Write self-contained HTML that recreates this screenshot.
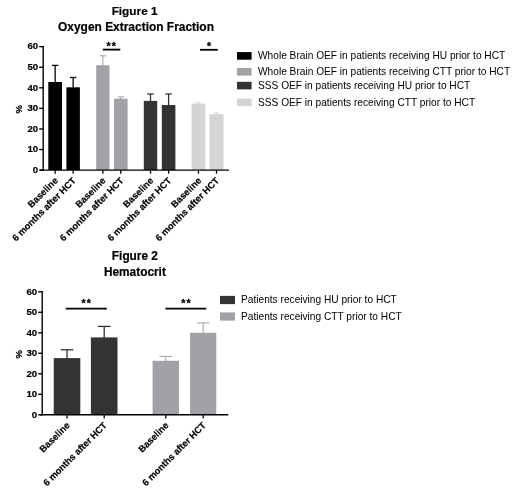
<!DOCTYPE html><html><head><meta charset="utf-8"><title>Figure</title><style>html,body{margin:0;padding:0;background:#fff}svg{display:block}text{font-family:"Liberation Sans", Arial, sans-serif;fill:#000}</style></head><body>
<svg width="520" height="499" viewBox="0 0 520 499">
<rect width="520" height="499" fill="#fff"/>
<text x="134.6" y="15.0" font-size="11.8" font-weight="bold" stroke="#000" stroke-width="0.2" text-anchor="middle">Figure 1</text>
<text x="136" y="30.6" font-size="11.95" font-weight="bold" stroke="#000" stroke-width="0.2" text-anchor="middle">Oxygen Extraction Fraction</text>
<line x1="43.20" y1="45.95" x2="43.20" y2="170.80" stroke="#000" stroke-width="1.4"/>
<line x1="39.20" y1="170.10" x2="43.20" y2="170.10" stroke="#000" stroke-width="1.4"/>
<text x="38.2" y="172.8" font-size="9.6" font-weight="bold" stroke="#000" stroke-width="0.2" text-anchor="end">0</text>
<line x1="39.20" y1="149.52" x2="43.20" y2="149.52" stroke="#000" stroke-width="1.4"/>
<text x="38.2" y="152.22" font-size="9.6" font-weight="bold" stroke="#000" stroke-width="0.2" text-anchor="end">10</text>
<line x1="39.20" y1="128.95" x2="43.20" y2="128.95" stroke="#000" stroke-width="1.4"/>
<text x="38.2" y="131.65" font-size="9.6" font-weight="bold" stroke="#000" stroke-width="0.2" text-anchor="end">20</text>
<line x1="39.20" y1="108.38" x2="43.20" y2="108.38" stroke="#000" stroke-width="1.4"/>
<text x="38.2" y="111.08" font-size="9.6" font-weight="bold" stroke="#000" stroke-width="0.2" text-anchor="end">30</text>
<line x1="39.20" y1="87.80" x2="43.20" y2="87.80" stroke="#000" stroke-width="1.4"/>
<text x="38.2" y="90.5" font-size="9.6" font-weight="bold" stroke="#000" stroke-width="0.2" text-anchor="end">40</text>
<line x1="39.20" y1="67.22" x2="43.20" y2="67.22" stroke="#000" stroke-width="1.4"/>
<text x="38.2" y="69.92" font-size="9.6" font-weight="bold" stroke="#000" stroke-width="0.2" text-anchor="end">50</text>
<line x1="39.20" y1="46.65" x2="43.20" y2="46.65" stroke="#000" stroke-width="1.4"/>
<text x="38.2" y="49.35" font-size="9.6" font-weight="bold" stroke="#000" stroke-width="0.2" text-anchor="end">60</text>
<text x="22.5" y="109.2" font-size="9.5" font-weight="bold" stroke="#000" stroke-width="0.2" text-anchor="middle" transform="rotate(-90 22.5 109.2)">%</text>
<line x1="55.15" y1="65.40" x2="55.15" y2="83.00" stroke="#000000" stroke-width="1.3"/>
<line x1="51.95" y1="65.40" x2="58.35" y2="65.40" stroke="#000000" stroke-width="1.3"/>
<rect x="48.30" y="82.00" width="13.70" height="88.10" fill="#000000"/>
<line x1="55.15" y1="170.10" x2="55.15" y2="173.70" stroke="#000" stroke-width="1.3"/>
<line x1="73.15" y1="77.50" x2="73.15" y2="88.30" stroke="#000000" stroke-width="1.3"/>
<line x1="69.95" y1="77.50" x2="76.35" y2="77.50" stroke="#000000" stroke-width="1.3"/>
<rect x="66.40" y="87.30" width="13.50" height="82.80" fill="#000000"/>
<line x1="73.15" y1="170.10" x2="73.15" y2="173.70" stroke="#000" stroke-width="1.3"/>
<line x1="102.85" y1="55.80" x2="102.85" y2="66.20" stroke="#a2a2a6" stroke-width="1.0"/>
<line x1="99.65" y1="55.80" x2="106.05" y2="55.80" stroke="#a2a2a6" stroke-width="1.0"/>
<rect x="96.20" y="65.20" width="13.30" height="104.90" fill="#a2a2a6"/>
<line x1="102.85" y1="170.10" x2="102.85" y2="173.70" stroke="#000" stroke-width="1.3"/>
<line x1="120.80" y1="96.90" x2="120.80" y2="99.70" stroke="#a2a2a6" stroke-width="1.0"/>
<line x1="117.60" y1="96.90" x2="124.00" y2="96.90" stroke="#a2a2a6" stroke-width="1.0"/>
<rect x="114.00" y="98.70" width="13.60" height="71.40" fill="#a2a2a6"/>
<line x1="120.80" y1="170.10" x2="120.80" y2="173.70" stroke="#000" stroke-width="1.3"/>
<line x1="150.50" y1="94.00" x2="150.50" y2="101.90" stroke="#333333" stroke-width="1.3"/>
<line x1="147.30" y1="94.00" x2="153.70" y2="94.00" stroke="#333333" stroke-width="1.3"/>
<rect x="143.80" y="100.90" width="13.40" height="69.20" fill="#333333"/>
<line x1="150.50" y1="170.10" x2="150.50" y2="173.70" stroke="#000" stroke-width="1.3"/>
<line x1="168.60" y1="94.00" x2="168.60" y2="106.00" stroke="#333333" stroke-width="1.3"/>
<line x1="165.40" y1="94.00" x2="171.80" y2="94.00" stroke="#333333" stroke-width="1.3"/>
<rect x="161.80" y="105.00" width="13.60" height="65.10" fill="#333333"/>
<line x1="168.60" y1="170.10" x2="168.60" y2="173.70" stroke="#000" stroke-width="1.3"/>
<line x1="198.45" y1="102.80" x2="198.45" y2="104.60" stroke="#d4d4d4" stroke-width="0.9"/>
<line x1="195.25" y1="102.80" x2="201.65" y2="102.80" stroke="#d4d4d4" stroke-width="0.9"/>
<rect x="191.60" y="103.60" width="13.70" height="66.50" fill="#d4d4d4"/>
<line x1="198.45" y1="170.10" x2="198.45" y2="173.70" stroke="#000" stroke-width="1.3"/>
<line x1="216.50" y1="112.90" x2="216.50" y2="115.20" stroke="#d4d4d4" stroke-width="0.9"/>
<line x1="213.30" y1="112.90" x2="219.70" y2="112.90" stroke="#d4d4d4" stroke-width="0.9"/>
<rect x="209.50" y="114.20" width="14.00" height="55.90" fill="#d4d4d4"/>
<line x1="216.50" y1="170.10" x2="216.50" y2="173.70" stroke="#000" stroke-width="1.3"/>
<line x1="40.00" y1="170.10" x2="229.00" y2="170.10" stroke="#000" stroke-width="1.4"/>
<text x="58.55" y="181.2" font-size="9.3" font-weight="bold" stroke="#000" stroke-width="0.2" text-anchor="end" transform="rotate(-45 58.55 181.2)">Baseline</text>
<text x="76.55" y="181.2" font-size="9.3" font-weight="bold" stroke="#000" stroke-width="0.2" text-anchor="end" transform="rotate(-45 76.55 181.2)">6 months after HCT</text>
<text x="106.25" y="181.2" font-size="9.3" font-weight="bold" stroke="#000" stroke-width="0.2" text-anchor="end" transform="rotate(-45 106.25 181.2)">Baseline</text>
<text x="124.2" y="181.2" font-size="9.3" font-weight="bold" stroke="#000" stroke-width="0.2" text-anchor="end" transform="rotate(-45 124.2 181.2)">6 months after HCT</text>
<text x="153.9" y="181.2" font-size="9.3" font-weight="bold" stroke="#000" stroke-width="0.2" text-anchor="end" transform="rotate(-45 153.9 181.2)">Baseline</text>
<text x="172.0" y="181.2" font-size="9.3" font-weight="bold" stroke="#000" stroke-width="0.2" text-anchor="end" transform="rotate(-45 172.0 181.2)">6 months after HCT</text>
<text x="201.85" y="181.2" font-size="9.3" font-weight="bold" stroke="#000" stroke-width="0.2" text-anchor="end" transform="rotate(-45 201.85 181.2)">Baseline</text>
<text x="219.9" y="181.2" font-size="9.3" font-weight="bold" stroke="#000" stroke-width="0.2" text-anchor="end" transform="rotate(-45 219.9 181.2)">6 months after HCT</text>
<line x1="102.80" y1="49.60" x2="120.30" y2="49.60" stroke="#000" stroke-width="1.8"/>
<text x="111.7" y="50.4" font-size="10.5" font-weight="bold" text-anchor="middle" letter-spacing="1.2" stroke="#000" stroke-width="0.3">**</text>
<line x1="200.00" y1="49.80" x2="217.80" y2="49.80" stroke="#000" stroke-width="1.8"/>
<text x="209.6" y="50.4" font-size="10.5" font-weight="bold" text-anchor="middle" letter-spacing="1.2" stroke="#000" stroke-width="0.3">*</text>
<rect x="237.00" y="52.10" width="14.60" height="7.60" fill="#000000"/>
<text x="258" y="59.4" font-size="10.16">Whole Brain OEF in patients receiving HU prior to HCT</text>
<rect x="237.00" y="68.00" width="14.60" height="7.60" fill="#a2a2a6"/>
<text x="258" y="75.0" font-size="10.16">Whole Brain OEF in patients receiving CTT prior to HCT</text>
<rect x="237.00" y="81.80" width="14.60" height="7.60" fill="#333333"/>
<text x="258" y="89.4" font-size="10.16">SSS OEF in patients receiving HU prior to HCT</text>
<rect x="237.00" y="98.60" width="14.60" height="7.60" fill="#d4d4d4"/>
<text x="258" y="105.8" font-size="10.16">SSS OEF in patients receiving CTT prior to HCT</text>
<text x="134.9" y="260.0" font-size="11.85" font-weight="bold" stroke="#000" stroke-width="0.2" text-anchor="middle">Figure 2</text>
<text x="134.9" y="275.9" font-size="11.85" font-weight="bold" stroke="#000" stroke-width="0.2" text-anchor="middle">Hematocrit</text>
<line x1="42.20" y1="291.10" x2="42.20" y2="415.50" stroke="#000" stroke-width="1.4"/>
<line x1="38.20" y1="414.80" x2="42.20" y2="414.80" stroke="#000" stroke-width="1.4"/>
<text x="37.2" y="417.5" font-size="9.6" font-weight="bold" stroke="#000" stroke-width="0.2" text-anchor="end">0</text>
<line x1="38.20" y1="394.30" x2="42.20" y2="394.30" stroke="#000" stroke-width="1.4"/>
<text x="37.2" y="397.0" font-size="9.6" font-weight="bold" stroke="#000" stroke-width="0.2" text-anchor="end">10</text>
<line x1="38.20" y1="373.80" x2="42.20" y2="373.80" stroke="#000" stroke-width="1.4"/>
<text x="37.2" y="376.5" font-size="9.6" font-weight="bold" stroke="#000" stroke-width="0.2" text-anchor="end">20</text>
<line x1="38.20" y1="353.30" x2="42.20" y2="353.30" stroke="#000" stroke-width="1.4"/>
<text x="37.2" y="356.0" font-size="9.6" font-weight="bold" stroke="#000" stroke-width="0.2" text-anchor="end">30</text>
<line x1="38.20" y1="332.80" x2="42.20" y2="332.80" stroke="#000" stroke-width="1.4"/>
<text x="37.2" y="335.5" font-size="9.6" font-weight="bold" stroke="#000" stroke-width="0.2" text-anchor="end">40</text>
<line x1="38.20" y1="312.30" x2="42.20" y2="312.30" stroke="#000" stroke-width="1.4"/>
<text x="37.2" y="315.0" font-size="9.6" font-weight="bold" stroke="#000" stroke-width="0.2" text-anchor="end">50</text>
<line x1="38.20" y1="291.80" x2="42.20" y2="291.80" stroke="#000" stroke-width="1.4"/>
<text x="37.2" y="294.5" font-size="9.6" font-weight="bold" stroke="#000" stroke-width="0.2" text-anchor="end">60</text>
<text x="21.7" y="354.2" font-size="9.5" font-weight="bold" stroke="#000" stroke-width="0.2" text-anchor="middle" transform="rotate(-90 21.7 354.2)">%</text>
<line x1="67.03" y1="349.80" x2="67.03" y2="359.10" stroke="#333333" stroke-width="1.3"/>
<line x1="60.73" y1="349.80" x2="73.33" y2="349.80" stroke="#333333" stroke-width="1.3"/>
<rect x="53.75" y="358.10" width="26.55" height="56.70" fill="#333333"/>
<line x1="67.03" y1="414.80" x2="67.03" y2="418.40" stroke="#000" stroke-width="1.3"/>
<line x1="104.20" y1="326.40" x2="104.20" y2="338.40" stroke="#333333" stroke-width="1.3"/>
<line x1="97.90" y1="326.40" x2="110.50" y2="326.40" stroke="#333333" stroke-width="1.3"/>
<rect x="90.90" y="337.40" width="26.60" height="77.40" fill="#333333"/>
<line x1="104.20" y1="414.80" x2="104.20" y2="418.40" stroke="#000" stroke-width="1.3"/>
<line x1="165.80" y1="356.40" x2="165.80" y2="361.80" stroke="#a2a2a6" stroke-width="1.0"/>
<line x1="159.50" y1="356.40" x2="172.10" y2="356.40" stroke="#a2a2a6" stroke-width="1.0"/>
<rect x="152.60" y="360.80" width="26.40" height="54.00" fill="#a2a2a6"/>
<line x1="165.80" y1="414.80" x2="165.80" y2="418.40" stroke="#000" stroke-width="1.3"/>
<line x1="203.15" y1="322.90" x2="203.15" y2="333.80" stroke="#a2a2a6" stroke-width="1.0"/>
<line x1="196.85" y1="322.90" x2="209.45" y2="322.90" stroke="#a2a2a6" stroke-width="1.0"/>
<rect x="190.00" y="332.80" width="26.30" height="82.00" fill="#a2a2a6"/>
<line x1="203.15" y1="414.80" x2="203.15" y2="418.40" stroke="#000" stroke-width="1.3"/>
<line x1="40.00" y1="414.80" x2="228.30" y2="414.80" stroke="#000" stroke-width="1.4"/>
<text x="70.43" y="425.9" font-size="9.3" font-weight="bold" stroke="#000" stroke-width="0.2" text-anchor="end" transform="rotate(-45 70.43 425.9)">Baseline</text>
<text x="107.6" y="425.9" font-size="9.3" font-weight="bold" stroke="#000" stroke-width="0.2" text-anchor="end" transform="rotate(-45 107.6 425.9)">6 months after HCT</text>
<text x="169.2" y="425.9" font-size="9.3" font-weight="bold" stroke="#000" stroke-width="0.2" text-anchor="end" transform="rotate(-45 169.2 425.9)">Baseline</text>
<text x="206.55" y="425.9" font-size="9.3" font-weight="bold" stroke="#000" stroke-width="0.2" text-anchor="end" transform="rotate(-45 206.55 425.9)">6 months after HCT</text>
<line x1="65.80" y1="308.60" x2="106.80" y2="308.60" stroke="#000" stroke-width="1.8"/>
<text x="86.7" y="307.4" font-size="10.5" font-weight="bold" text-anchor="middle" letter-spacing="1.2" stroke="#000" stroke-width="0.3">**</text>
<line x1="165.40" y1="308.60" x2="206.20" y2="308.60" stroke="#000" stroke-width="1.8"/>
<text x="186.6" y="307.2" font-size="10.5" font-weight="bold" text-anchor="middle" letter-spacing="1.2" stroke="#000" stroke-width="0.3">**</text>
<rect x="220.00" y="295.90" width="15.00" height="8.20" fill="#333333"/>
<text x="241" y="303.0" font-size="10.16">Patients receiving HU prior to HCT</text>
<rect x="220.00" y="312.40" width="15.00" height="8.20" fill="#a2a2a6"/>
<text x="241" y="320.2" font-size="10.16">Patients receiving CTT prior to HCT</text>
</svg></body></html>
